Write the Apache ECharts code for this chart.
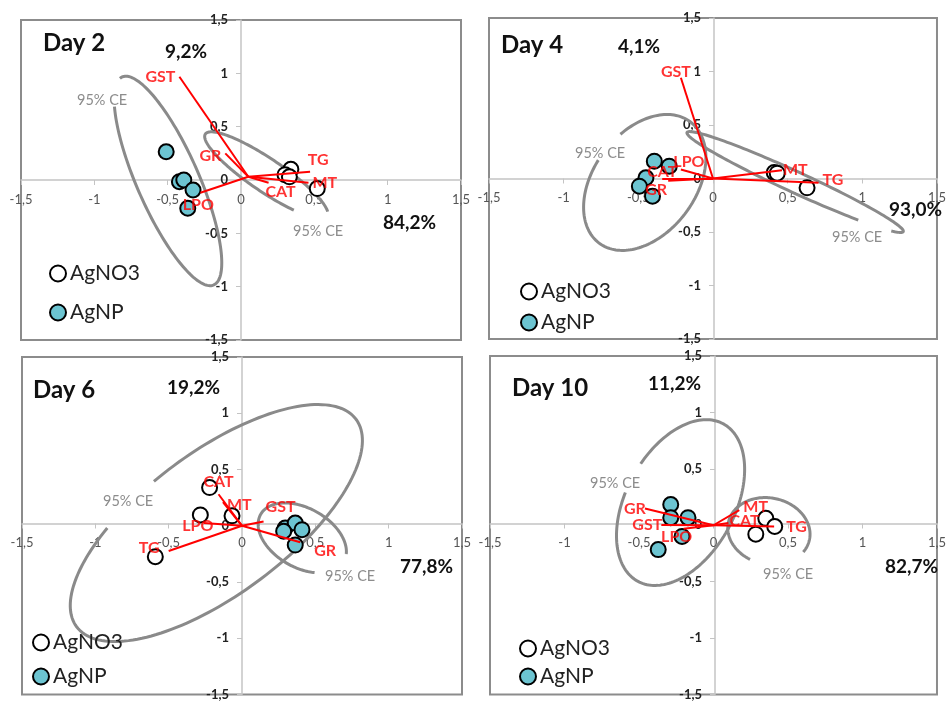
<!DOCTYPE html>
<html><head><meta charset="utf-8">
<script src="https://cdn.jsdelivr.net/npm/echarts@6/dist/echarts.min.js"></script>
<style>html,body{margin:0;padding:0;background:#fff}#c{width:949px;height:701px}</style>
</head><body><div id="c"></div>
<script>
// ---------------- DATA ----------------
const panelNames = ['Day 2', 'Day 4', 'Day 6', 'Day 10'];
const pc1Text = ['84,2%', '93,0%', '77,8%', '82,7%'];
const pc2Text = ['9,2%', '4,1%', '19,2%', '11,2%'];
const ceText = '95% CE';
const axisMin = -1.5, axisMax = 1.5, axisStep = 0.5;
const groupNames = ['AgNO3', 'AgNP'];

const agno3Day2 = [[0.34, 0.10], [0.30, 0.05], [0.33, 0.03], [0.52, -0.08]];
const agnpDay2  = [[-0.51, 0.265], [-0.42, -0.016], [-0.39, 0.0], [-0.327, -0.094], [-0.363, -0.265]];
const agno3Day4 = [[0.41, 0.055], [0.43, 0.05], [0.63, -0.087]];
const agnpDay4  = [[-0.393, 0.162], [-0.293, 0.115], [-0.449, 0.007], [-0.493, -0.072], [-0.405, -0.165]];
const agno3Day6 = [[-0.221, 0.339], [-0.284, 0.096], [-0.068, 0.088], [-0.591, -0.275]];
const agnpDay6  = [[0.295, -0.02], [0.363, 0.024], [0.409, -0.035], [0.284, -0.049], [0.363, -0.172]];
const agno3Day10 = [[0.351, 0.061], [0.411, -0.011], [0.284, -0.079]];
const agnpDay10  = [[-0.287, 0.184], [-0.287, 0.067], [-0.171, 0.067], [-0.211, -0.099], [-0.371, -0.216]];

const loadNames = ['GST', 'GR', 'TG', 'MT', 'CAT', 'LPO'];
const loadOriginDay2 = [0.05, 0.03];
const loadOriginDay4 = [0, 0];
const loadOriginDay6 = [0, 0];
const loadOriginDay10 = [0, 0];
const loadDay2  = [[-0.42, 0.968], [-0.107, 0.25], [0.471, 0.078], [0.46, -0.025], [0.188, -0.025], [-0.277, -0.119]];
const loadDay4  = [[-0.215, 0.941], [-0.30, -0.02], [0.707, -0.04], [0.462, 0.078], [-0.34, 0.0], [-0.215, 0.084]];
const loadDay6  = [[0.147, 0.038], [0.397, -0.146], [-0.50, -0.225], [-0.13, 0.21], [-0.16, 0.28], [-0.26, 0.024]];
const loadDay10 = [[-0.35, 0.003], [-0.46, 0.149], [0.407, -0.011], [0.173, 0.134], [0.1, 0.02], [-0.2, -0.03]];

// confidence ellipses: [centerX, centerY, axis1X, axis1Y, axis2X, axis2Y, arcStartDeg, arcEndDeg]
const ellipseDay2  = [[-0.498, -0.009, 0.312, -0.975, 0.193, 0.117, 218, 545],
                      [0.173, 0.044, 0.416, -0.387, 0.0629, 0.128, 15, 305]];
const ellipseDay4  = [[-0.457, -0.037, 0.307, 0.565, 0.271, -0.290, 288, 622],
                      [0.55, -0.033, 0.724, -0.463, 0.029, 0.089, -25, 308]];
const ellipseDay6  = [[-0.175, 0.024, 0.951, 0.925, 0.296, -0.504, 262, 599],
                      [0.411, -0.108, 0.283, -0.211, 0.102, 0.228, 15, 306]];
const ellipseDay10 = [[-0.221, 0.201, 0.285, 0.699, 0.322, -0.226, 280, 619],
                      [0.372, -0.052, 0.273, -0.07, 0.04, 0.289, 335, 611]];

// ---------------- LAYOUT / STYLE ----------------
const FONT = 'Lato, "Open Sans", sans-serif';
const panels = [
  { agno3: agno3Day2, agnp: agnpDay2, load: loadDay2, origin: loadOriginDay2, ell: ellipseDay2 },
  { agno3: agno3Day4, agnp: agnpDay4, load: loadDay4, origin: loadOriginDay4, ell: ellipseDay4 },
  { agno3: agno3Day6, agnp: agnpDay6, load: loadDay6, origin: loadOriginDay6, ell: ellipseDay6 },
  { agno3: agno3Day10, agnp: agnpDay10, load: loadDay10, origin: loadOriginDay10, ell: ellipseDay10 }
];
const grids = [
  { left: 21, top: 20, width: 440, height: 320 },
  { left: 489, top: 18, width: 450, height: 321 },
  { left: 22, top: 357, width: 440, height: 342 },
  { left: 490, top: 356, width: 450, height: 342 }
];
const textLayout = [
  { day: [43, 43], pc2: [165, 52], pc1: [383, 223], ce: [[77, 100], [293, 231]], legend: [49, 263, 18] },
  { day: [501, 45], pc2: [618, 47], pc1: [889, 210], ce: [[575, 153], [832, 237]], legend: [520, 281, 10] },
  { day: [33, 390], pc2: [167, 388], pc1: [400, 567], ce: [[103, 501], [325, 576]], legend: [32, 632, 13] },
  { day: [512, 388], pc2: [648, 384], pc1: [885, 567], ce: [[590, 483], [763, 574]], legend: [519, 638, 7] }
];
const labelPlace = [
  { GST: ['left', 0, 0], GR: ['left', 0, 3], TG: ['top', 8, 0], MT: ['right', 0, 0], CAT: ['bottom', 12, -3], LPO: ['bottom', -2, 0] },
  { GST: ['top', -5, 6], GR: ['inside', -12, 9], TG: ['right', 0, -3], MT: ['right', -3, 0], CAT: ['inside', 0, -7], LPO: ['top', 8, 4] },
  { GST: ['right', -2, -15], GR: ['right', 10, 9], TG: ['left', -5, -3], MT: ['right', 0, 3], CAT: ['top', 0, 0], LPO: ['inside', -6, 3] },
  { GST: ['left', 5, 0], GR: ['inside', -10, 0], TG: ['right', 8, 0], MT: ['right', 0, -3], CAT: ['right', -3, -2], LPO: ['inside', -7, 8] }
];

const fmt = v => String(v).replace('.', ',');

const option = {
  backgroundColor: '#fff',
  animation: false,
  textStyle: { fontFamily: FONT },
  grid: grids.map(g => Object.assign({ show: true, borderColor: '#8c8c8c', borderWidth: 2, containLabel: false }, g)),
  xAxis: grids.map((g, i) => ({
    gridIndex: i, type: 'value', min: axisMin, max: axisMax, interval: axisStep,
    position: 'bottom', offset: -g.height / 2,
    axisLine: { onZero: false, lineStyle: { color: '#c4c4c4', width: 1.5 } },
    axisTick: { show: true, length: 5, lineStyle: { color: '#c4c4c4' } },
    axisLabel: { formatter: fmt, color: '#555', fontSize: 13, margin: 13, fontFamily: FONT },
    splitLine: { show: false }
  })),
  yAxis: grids.map((g, i) => ({
    gridIndex: i, type: 'value', min: axisMin, max: axisMax, interval: axisStep,
    position: 'left', offset: -g.width / 2,
    axisLine: { onZero: false, lineStyle: { color: '#c4c4c4', width: 1.5 } },
    axisTick: { show: true, length: 5, lineStyle: { color: '#c4c4c4' } },
    axisLabel: { formatter: fmt, color: '#222', fontSize: 13, fontWeight: 'bold', margin: 13, fontFamily: FONT },
    splitLine: { show: false }
  })),
  legend: textLayout.map(t => ({
    data: groupNames, orient: 'vertical', left: t.legend[0], top: t.legend[1], itemGap: t.legend[2],
    icon: 'circle', itemWidth: 16, itemHeight: 16, selectedMode: false, padding: 0,
    textStyle: { fontSize: 21, color: '#222', fontFamily: FONT, padding: [0, 0, 0, -1] }
  })),
  graphic: [],
  series: []
};

const addText = (txt, pos, font, fill) => option.graphic.push({
  type: 'text', silent: true, z: 50,
  style: { text: txt, x: pos[0], y: pos[1], font: font, fill: fill, textAlign: 'left', textVerticalAlign: 'middle', align: 'left', verticalAlign: 'middle' }
});

panels.forEach((p, i) => {
  const t = textLayout[i];
  addText(panelNames[i], t.day, 'bold 24px ' + FONT, '#111');
  addText(pc2Text[i], t.pc2, 'bold 19px ' + FONT, '#111');
  addText(pc1Text[i], t.pc1, 'bold 19px ' + FONT, '#111');
  t.ce.forEach(c => addText(ceText, c, '14.5px ' + FONT, '#8c8c8c'));

  option.series.push({
    type: 'custom', name: 'ellipse' + i, xAxisIndex: i, yAxisIndex: i, z: 1, silent: true,
    data: p.ell,
    encode: { x: 0, y: 1 },
    renderItem: (params, api) => {
      const v = k => api.value(k);
      const cx = v(0), cy = v(1), ux = v(2), uy = v(3), vx = v(4), vy = v(5), t0 = v(6), t1 = v(7);
      const pts = [];
      const N = 160;
      for (let k = 0; k <= N; k++) {
        const a = (t0 + (t1 - t0) * k / N) * Math.PI / 180;
        pts.push(api.coord([cx + ux * Math.cos(a) + vx * Math.sin(a), cy + uy * Math.cos(a) + vy * Math.sin(a)]));
      }
      return { type: 'polyline', shape: { points: pts }, style: { stroke: '#8a8a8a', lineWidth: 3, fill: null } };
    }
  });
  option.series.push({
    type: 'scatter', name: groupNames[0], xAxisIndex: i, yAxisIndex: i, z: 3,
    data: p.agno3, symbol: 'circle', symbolSize: 15,
    itemStyle: { color: '#ffffff', borderColor: '#000', borderWidth: 2, opacity: 1 }
  });
  option.series.push({
    type: 'scatter', name: groupNames[1], xAxisIndex: i, yAxisIndex: i, z: 3,
    data: p.agnp, symbol: 'circle', symbolSize: 15,
    itemStyle: { color: '#6cc4d1', borderColor: '#000', borderWidth: 2, opacity: 1 }
  });
  option.series.push({
    type: 'lines', name: 'loadings' + i, coordinateSystem: 'cartesian2d', xAxisIndex: i, yAxisIndex: i, z: 4,
    silent: true, polyline: false,
    data: p.load.map(e => ({ coords: [p.origin, e] })),
    lineStyle: { color: '#ff0000', width: 2, opacity: 1, curveness: 0 }
  });
  option.series.push({
    type: 'scatter', name: 'loadLabels' + i, xAxisIndex: i, yAxisIndex: i, z: 5, silent: true,
    symbolSize: 0,
    data: p.load.map((e, k) => {
      const lp = labelPlace[i][loadNames[k]];
      return { value: e, name: loadNames[k], label: { position: lp[0], offset: [lp[1], lp[2]] } };
    }),
    label: { show: true, formatter: '{b}', color: '#ff0000', fontWeight: 'bold', fontSize: 16, fontFamily: FONT, distance: 4 }
  });
});

const chart = echarts.init(document.getElementById('c'), null, { renderer: 'canvas' });
chart.setOption(option);
</script>
</body></html>
